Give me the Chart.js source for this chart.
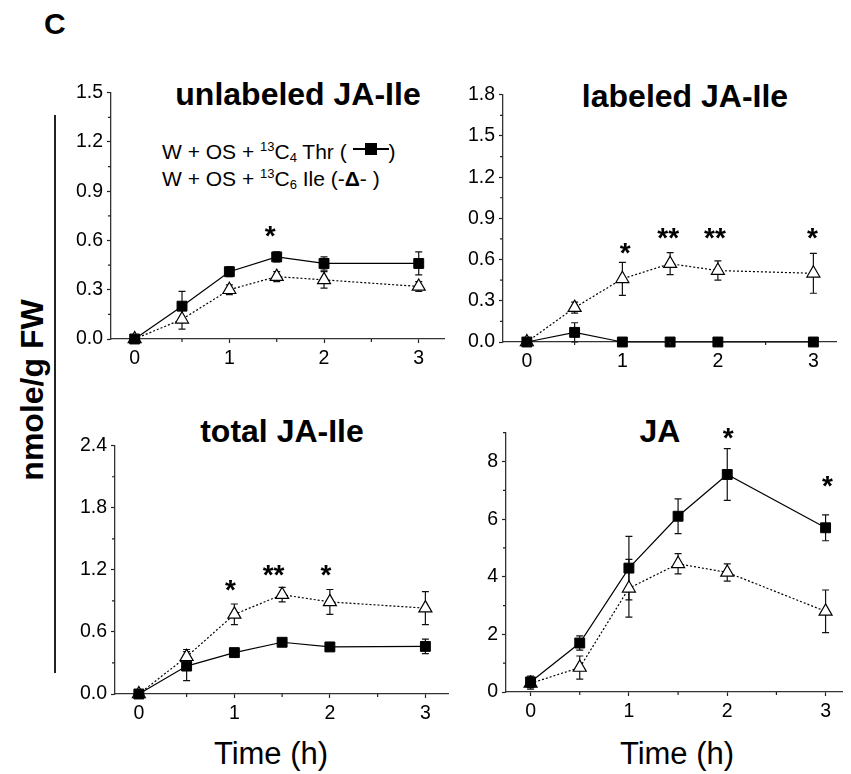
<!DOCTYPE html>
<html>
<head>
<meta charset="utf-8">
<script src="https://cdn.jsdelivr.net/npm/chart.js@4.4.1/dist/chart.umd.min.js"></script>
<style>
  html, body { margin: 0; padding: 0; overflow: hidden; }
  body { width: 851px; height: 774px; position: relative; background: #fff; color: #000;
         font-family: 'Liberation Sans', Arial, sans-serif; }
  canvas { position: absolute; }
  .txt { position: absolute; line-height: 1; white-space: nowrap; }
  .title { font-weight: bold; font-size: 32px; width: 400px; text-align: center; }
  .xlab { font-size: 31px; width: 300px; text-align: center; }
  .leg { font-size: 21px; }
  .up { font-size: 13px; position: relative; top: -8px; }
  .dn { font-size: 13px; position: relative; top: 3px; }
  .sym { display: inline-block; position: relative; width: 36px; height: 12px; vertical-align: 4px; }
  .sym .ln { position: absolute; left: 0; right: 0; top: 5px; height: 1.5px; background: #000; }
  .sym .sq { position: absolute; left: 12px; top: 0; width: 12px; height: 12px; background: #000; }
  .vline { position: absolute; left: 54px; top: 115px; width: 1.5px; height: 558px; background: #222; }
</style>
</head>
<body>
<div class="txt" style="left:44px; top:9px; font-size:30px; font-weight:bold;">C</div>
<div class="vline"></div>
<div class="txt" style="left:32px; top:390px; font-size:32px; font-weight:bold; transform:translate(-50%,-50%) rotate(-90deg);">nmole/g FW</div>

<div class="txt title" style="left:98px; top:78px;">unlabeled JA-Ile</div>
<div class="txt title" style="left:485px; top:80px;">labeled JA-Ile</div>
<div class="txt title" style="left:82px; top:415px;">total JA-Ile</div>
<div class="txt title" style="left:460px; top:415px;">JA</div>

<div class="txt leg" style="left:162px; top:141px;">W + OS + <span class="up">13</span>C<span class="dn">4</span> Thr ( <span class="sym"><i class="ln"></i><i class="sq"></i></span>)</div>
<div class="txt leg" style="left:162px; top:168px;">W + OS + <span class="up">13</span>C<span class="dn">6</span> Ile (-<b>Δ</b>- )</div>

<div class="txt xlab" style="left:121px; top:738px;">Time (h)</div>
<div class="txt xlab" style="left:527px; top:738px;">Time (h)</div>

<script>
// sampling times (h) and axis ticks
const times = [0, 0.5, 1, 1.5, 2, 3];
const xTicks = [0, 1, 2, 3];

// unlabeled JA-Ile
const unlabTicks = [0, 0.3, 0.6, 0.9, 1.2, 1.5];
const unlabThr = [0, 0.20, 0.41, 0.50, 0.46, 0.46];
const unlabThrErr = [0, 0.09, 0.03, 0.03, 0.04, 0.07];
const unlabIle = [0, 0.12, 0.30, 0.38, 0.36, 0.32];
const unlabIleErr = [0, 0.06, 0.03, 0.03, 0.05, 0.03];
const unlabStarX = [1.43];
const unlabStarY = [0.67];
const unlabStars = ['*'];

// labeled JA-Ile
const labTicks = [0, 0.3, 0.6, 0.9, 1.2, 1.5, 1.8];
const labThr = [0, 0.07, 0, 0, 0, 0];
const labThrErr = [0, 0.07, 0, 0, 0, 0];
const labIle = [0, 0.25, 0.46, 0.57, 0.52, 0.50];
const labIleErr = [0, 0.04, 0.12, 0.08, 0.07, 0.145];
const labStarX = [1.03, 1.48, 1.97, 2.99];
const labStarY = [0.70, 0.81, 0.81, 0.81];
const labStars = ['*', '**', '**', '*'];

// total JA-Ile
const totTicks = [0, 0.6, 1.2, 1.8, 2.4];
const totThr = [0, 0.27, 0.40, 0.50, 0.455, 0.46];
const totThrErr = [0, 0.14, 0.02, 0.02, 0.02, 0.07];
const totIle = [0, 0.36, 0.77, 0.96, 0.89, 0.83];
const totIleErr = [0, 0.07, 0.10, 0.07, 0.12, 0.16];
const totStarX = [0.96, 1.41, 1.96];
const totStarY = [1.08, 1.22, 1.22];
const totStars = ['*', '**', '*'];

// JA
const jaTicks = [0, 2, 4, 6, 8];
const jaThr = [0.35, 1.7, 4.3, 6.1, 7.55, 5.7];
const jaThrErr = [0.2, 0.25, 1.1, 0.6, 0.9, 0.45];
const jaIle = [0.3, 0.85, 3.6, 4.45, 4.15, 2.8];
const jaIleErr = [0.2, 0.4, 1.0, 0.35, 0.3, 0.74];
const jaStarX = [2.01, 3.02];
const jaStarY = [9.07, 7.4];
const jaStars = ['*', '*'];

const FONT = "'Liberation Sans', Arial, sans-serif";
const PAD_L = 70, PAD_T = 15, PAD_B = 45;

Chart.defaults.font.family = FONT;
Chart.defaults.font.size = 19.5;
Chart.defaults.color = '#000';

// error bars under the markers, minor ticks and significance stars on top
const extras = {
  id: 'extras',
  beforeDatasetsDraw(chart) {
    const ctx = chart.ctx, ys = chart.scales.y;
    ctx.save();
    ctx.strokeStyle = '#111';
    ctx.lineWidth = 1.2;
    chart.data.datasets.forEach((ds, di) => {
      const meta = chart.getDatasetMeta(di);
      meta.data.forEach((pt, i) => {
        const e = ds.err[i];
        if (!e) return;
        const v = ds.data[i].y;
        const top = ys.getPixelForValue(v + e), bot = ys.getPixelForValue(v - e);
        ctx.beginPath();
        ctx.moveTo(pt.x, top); ctx.lineTo(pt.x, bot);
        ctx.moveTo(pt.x - 3.5, top); ctx.lineTo(pt.x + 3.5, top);
        ctx.moveTo(pt.x - 3.5, bot); ctx.lineTo(pt.x + 3.5, bot);
        ctx.stroke();
      });
    });
    ctx.restore();
  },
  afterDraw(chart, args, opts) {
    const ctx = chart.ctx, xs = chart.scales.x, ys = chart.scales.y, a = chart.chartArea;
    ctx.save();
    ctx.strokeStyle = '#222';
    ctx.lineWidth = 1.2;
    ctx.beginPath();
    for (let i = 0; i < xTicks.length - 1; i++) {
      const px = xs.getPixelForValue((xTicks[i] + xTicks[i + 1]) / 2);
      ctx.moveTo(px, a.bottom); ctx.lineTo(px, a.bottom + 3);
    }
    const yt = opts.yTicks, step = yt[1] - yt[0];
    for (let v = step / 2; v <= ys.max + 1e-9; v += step) {
      const py = ys.getPixelForValue(v);
      ctx.moveTo(a.left, py); ctx.lineTo(a.left - 3, py);
    }
    ctx.stroke();

    const size = 28;
    ctx.fillStyle = '#000';
    ctx.font = 'bold ' + size + 'px ' + FONT;
    ctx.textAlign = 'center';
    ctx.textBaseline = 'alphabetic';
    opts.stars.forEach((s, i) => {
      ctx.fillText(s, xs.getPixelForValue(opts.starX[i]), ys.getPixelForValue(opts.starY[i]) + size * 0.58);
    });
    ctx.restore();
  }
};

function makePanel(p) {
  const padR = p.padR;
  const w = p.box.right - p.box.left + PAD_L + padR;
  const h = p.box.bottom - p.box.top + PAD_T + PAD_B;
  const canvas = document.createElement('canvas');
  canvas.width = w; canvas.height = h;
  canvas.style.left = (p.box.left - PAD_L) + 'px';
  canvas.style.top = (p.box.top - PAD_T) + 'px';
  canvas.style.width = w + 'px';
  canvas.style.height = h + 'px';
  document.body.appendChild(canvas);

  const axisGrid = { drawOnChartArea: false, drawTicks: true, tickLength: 4, tickColor: '#222', tickWidth: 1.2 };
  const axisBorder = { display: true, color: '#333', width: 1.3 };

  new Chart(canvas, {
    type: 'line',
    data: {
      datasets: [
        {
          data: times.map((t, i) => ({ x: t, y: p.thr[i] })),
          err: p.thrErr,
          borderColor: '#000', borderWidth: 1.2,
          pointStyle: 'rect', pointRadius: 7,
          pointBackgroundColor: '#000', pointBorderColor: '#000', pointBorderWidth: 1,
          clip: false
        },
        {
          data: times.map((t, i) => ({ x: t, y: p.ile[i] })),
          err: p.ileErr,
          borderColor: '#000', borderWidth: 1.2, borderDash: [2, 2],
          pointStyle: 'triangle', pointRadius: 7.5,
          pointBackgroundColor: '#fff', pointBorderColor: '#000', pointBorderWidth: 1.2,
          clip: false
        }
      ]
    },
    options: {
      responsive: false,
      animation: false,
      events: [],
      layout: { padding: { left: 0, top: PAD_T, right: padR, bottom: 0 } },
      plugins: {
        legend: { display: false },
        tooltip: { enabled: false },
        extras: { yTicks: p.yTicks, stars: p.stars, starX: p.starX, starY: p.starY }
      },
      scales: {
        x: {
          type: 'linear', min: -0.25, max: p.xMax,
          afterBuildTicks: s => { s.ticks = xTicks.map(v => ({ value: v })); },
          afterFit: s => { s.height = PAD_B; },
          grid: axisGrid, border: axisBorder,
          ticks: { color: '#000', padding: 4, maxRotation: 0, autoSkip: false,
                   callback: v => String(v) }
        },
        y: {
          type: 'linear', min: 0, max: p.yMax,
          afterBuildTicks: s => { s.ticks = p.yTicks.map(v => ({ value: v })); },
          afterFit: s => { s.width = PAD_L; },
          grid: axisGrid, border: axisBorder,
          ticks: { color: '#000', padding: 4, autoSkip: false,
                   callback: v => v.toFixed(p.dec) }
        }
      }
    },
    plugins: [extras]
  });
}

makePanel({ box: { left: 111, top: 92, right: 448, bottom: 339 }, padR: 5, xMax: 3.27,
  yMax: 1.5, yTicks: unlabTicks, dec: 1,
  thr: unlabThr, thrErr: unlabThrErr, ile: unlabIle, ileErr: unlabIleErr,
  starX: unlabStarX, starY: unlabStarY, stars: unlabStars });

makePanel({ box: { left: 503, top: 94, right: 840, bottom: 342 }, padR: 5, xMax: 3.24,
  yMax: 1.8, yTicks: labTicks, dec: 1,
  thr: labThr, thrErr: labThrErr, ile: labIle, ileErr: labIleErr,
  starX: labStarX, starY: labStarY, stars: labStars });

makePanel({ box: { left: 115, top: 445, right: 452, bottom: 694 }, padR: 5, xMax: 3.24,
  yMax: 2.4, yTicks: totTicks, dec: 1,
  thr: totThr, thrErr: totThrErr, ile: totIle, ileErr: totIleErr,
  starX: totStarX, starY: totStarY, stars: totStars });

makePanel({ box: { left: 506, top: 432, right: 851, bottom: 692 }, padR: 0, xMax: 3.17,
  yMax: 9, yTicks: jaTicks, dec: 0,
  thr: jaThr, thrErr: jaThrErr, ile: jaIle, ileErr: jaIleErr,
  starX: jaStarX, starY: jaStarY, stars: jaStars });
</script>
</body>
</html>
